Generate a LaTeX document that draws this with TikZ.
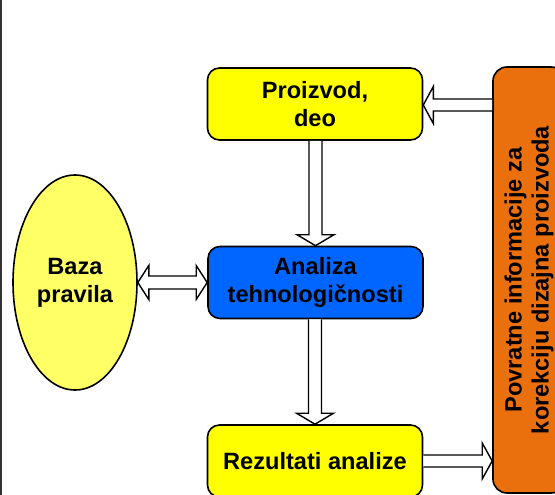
\documentclass[tikz,border=0pt]{standalone}
\usepackage{fontspec}
\setmainfont{Liberation Sans}
\usetikzlibrary{calc,shapes.geometric}
\definecolor{boxyellow}{HTML}{FFFF00}
\definecolor{ellyellow}{HTML}{FFFF66}
\definecolor{boxblue}{HTML}{0066FF}
\definecolor{boxorange}{HTML}{EA700E}
\tikzset{
  txt/.style={font=\bfseries\fontsize{23.6}{28}\selectfont, align=center, text=black},
  box/.style={txt, draw=black, line width=1.6pt, rounded corners=12pt, minimum width=215pt, minimum height=72pt, inner sep=0pt},
  barrow/.style={draw=black, fill=white, line width=1.4pt, line join=miter}
}
\begin{document}
\begin{tikzpicture}[x=1pt,y=-1pt]
\useasboundingbox (0,0) rectangle (555,495);
\draw[line width=2pt, draw=black!80] (1,0) -- (1,495);
% nodes
\node[box, fill=boxyellow] (prod) at (315,104) {Proizvod,\\deo};
\node[box, fill=boxblue] (anal) at (315.5,282.5) {Analiza\\tehnologi\v{c}nosti};
\node[box, fill=boxyellow] (rez) at (315,461) {Rezultati analize};
\node[ellipse, draw=black, line width=1.6pt, fill=ellyellow, minimum width=124pt, minimum height=215pt, inner sep=0pt, txt] (baza) at (75,282.5) {Baza\\pravila};
\node[draw=black, line width=1.6pt, fill=boxorange, rounded corners=14pt, minimum width=72pt, minimum height=426pt, inner sep=0pt] (org) at (529,280) {};
\node[txt, font=\bfseries\fontsize{23.6}{27}\selectfont, rotate=90] (orgtxt) at (org.center) {Povratne informacije za\\korekciju dizajna proizvoda};
% arrows
% prod -> anal
\draw[barrow] ($(anal.north |- prod.south)+(-6.5,0)$) -- ($(anal.north)+(-6.5,-11)$) -- ($(anal.north)+(-18.5,-11)$) -- (anal.north) -- ($(anal.north)+(18.5,-11)$) -- ($(anal.north)+(6.5,-11)$) -- ($(anal.north |- prod.south)+(6.5,0)$);
% anal -> rez
\draw[barrow] ($(rez.north |- anal.south)+(-6.5,0)$) -- ($(rez.north)+(-6.5,-11)$) -- ($(rez.north)+(-18.5,-11)$) -- (rez.north) -- ($(rez.north)+(18.5,-11)$) -- ($(rez.north)+(6.5,-11)$) -- ($(rez.north |- anal.south)+(6.5,0)$);
% org -> prod
\coordinate (fbtail) at ($(org.west |- prod.east)+(0,1)$);
\coordinate (fbtip) at ($(prod.east)+(0,1)$);
\draw[barrow] ($(fbtail)+(0,-6)$) -- ($(fbtip)+(10,-6)$) -- ($(fbtip)+(10,-18.5)$) -- (fbtip) -- ($(fbtip)+(10,18.5)$) -- ($(fbtip)+(10,6)$) -- ($(fbtail)+(0,6)$);
% rez -> org
\coordinate (rtip) at (org.west |- rez.east);
\draw[barrow] ($(rez.east)+(0,-6)$) -- ($(rtip)+(-10,-6)$) -- ($(rtip)+(-10,-18)$) -- (rtip) -- ($(rtip)+(-10,18)$) -- ($(rtip)+(-10,6)$) -- ($(rez.east)+(0,6)$);
% baza <-> anal
\draw[barrow] (baza.east) -- ($(baza.east)+(11,-17)$) -- ($(baza.east)+(11,-6.5)$) -- ($(anal.west)+(-11,-6.5)$) -- ($(anal.west)+(-11,-17)$) -- (anal.west) -- ($(anal.west)+(-11,17)$) -- ($(anal.west)+(-11,6.5)$) -- ($(baza.east)+(11,6.5)$) -- ($(baza.east)+(11,17)$) -- cycle;
\end{tikzpicture}
\end{document}
